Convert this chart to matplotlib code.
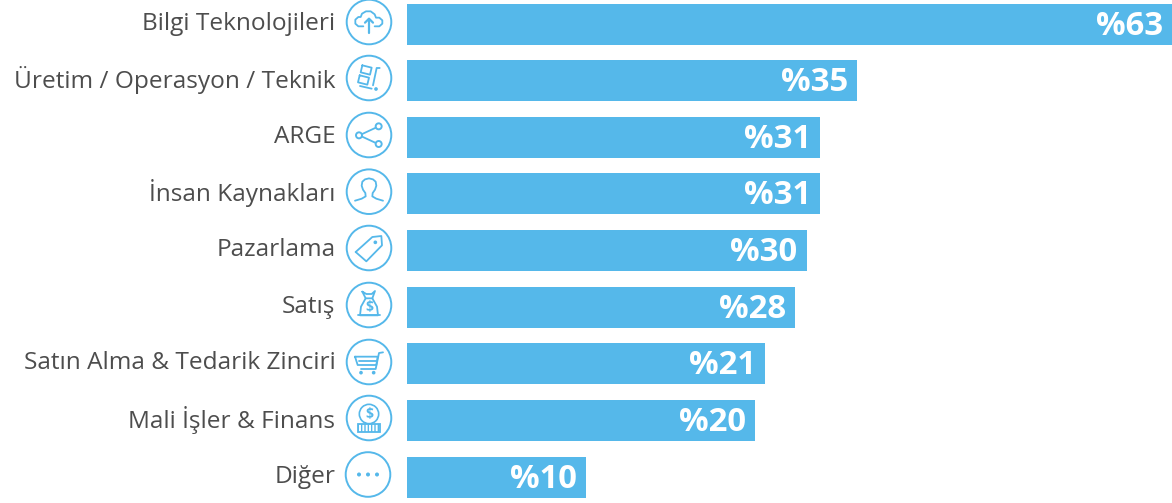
import matplotlib
matplotlib.use('Agg')
import matplotlib.pyplot as plt
from matplotlib.patches import Circle, Polygon

# data
categories = ['Bilgi Teknolojileri', 'Üretim / Operasyon / Teknik', 'ARGE', 'İnsan Kaynakları',
              'Pazarlama', 'Satış', 'Satın Alma & Tedarik Zinciri', 'Mali İşler & Finans', 'Diğer']
value_labels = ['%63', '%35', '%31', '%31', '%30', '%28', '%21', '%20', '%10']
# bar lengths as drawn in the picture (they are not proportional to the labels)
bar_lengths = [63.0, 37.05, 34.0, 34.0, 32.9, 31.95, 29.5, 28.65, 14.75]
icons = ['cloud', 'list', 'share', 'person', 'tag', 'bag', 'cart', 'coin', 'dots']

BLUE = '#55b8ea'
GREY = '#4d4d4d'
W, H = 1172, 503
plt.rcParams['font.family'] = ['Open Sans', 'DejaVu Sans']

fig = plt.figure(figsize=(W / 100, H / 100), dpi=100)

# bars: axes spans the bar area, y runs in pixels from the top
ax = fig.add_axes([407 / W, 0, (W - 407) / W, 1])
ax.set_xlim(0, 63)
rows = [24.5, 80.5, 137.5, 193.5, 250.5, 307.5, 363.5, 420.5, 477.5]
ax.set_ylim(H, 0)
ax.barh(rows, bar_lengths, height=41, color=BLUE, linewidth=0)
ax.axis('off')
for r, v, lab in zip(rows, bar_lengths, value_labels):
    ax.annotate(lab, (v, r), xytext=(-9, -2), textcoords='offset pixels', ha='right', va='center',
                color='white', fontsize=23.7, fontweight='bold')

# overlay in pixels for the labels and the icons
ov = fig.add_axes([0, 0, 1, 1])
ov.set_xlim(0, W)
ov.set_ylim(H, 0)
ov.axis('off')
ov.patch.set_alpha(0)
for r, c in zip(rows, categories):
    ov.text(335.5, r - 0.5, c, ha='right', va='center', color=GREY, fontsize=17.6)


def line(cx, cy, pts, lw=1.3, closed=False):
    # pts given in 3x zoomed offsets from the icon centre
    xs = [cx + p[0] / 3 for p in pts]
    ys = [cy + p[1] / 3 for p in pts]
    if closed:
        xs.append(xs[0])
        ys.append(ys[0])
    ov.plot(xs, ys, color=BLUE, lw=lw, solid_capstyle='round', solid_joinstyle='round')


def dot(cx, cy, x, y, r, fill=True):
    ov.add_patch(Circle((cx + x / 3, cy + y / 3), r / 3, fc=BLUE if fill else 'none', ec=BLUE, lw=1.2))


def draw_icon(name, cx, cy):
    ov.add_patch(Circle((cx, cy), 22.3, fc='none', ec=BLUE, lw=1.4))
    if name == 'cloud':
        line(cx, cy, [(-17, 13), (-32, 13), (-41, 5), (-41, -7), (-32, -15), (-25, -15), (-21, -25), (-9, -32),
                      (5, -32), (17, -23), (21, -13), (31, -13), (40, -5), (40, 5), (31, 13), (17, 13)])
        line(cx, cy, [(0, 32), (0, -10)], lw=1.6)
        line(cx, cy, [(-12, 2), (0, -10), (12, 2)], lw=1.6)
    elif name == 'list':
        line(cx, cy, [(-20, -38), (8, -31), (3, -10), (-25, -17)], closed=True)
        line(cx, cy, [(-28, -8), (0, -1), (-5, 20), (-33, 13)], closed=True)
        line(cx, cy, [(-27, 24), (8, 32)])
        line(cx, cy, [(12, 22), (23, -30), (32, -30)])
        dot(cx, cy, 21, 33, 3)
    elif name == 'share':
        line(cx, cy, [(27, -25), (-29, 1), (27, 27)])
        for x, y in [(29, -26), (-30, 1), (29, 27)]:
            ov.add_patch(Circle((cx + x / 3, cy + y / 3), 9 / 3, fc='white', ec=BLUE, lw=1.4, zorder=3))
    elif name == 'person':
        line(cx, cy, [(-42, 27), (-22, 21), (-10, 14), (-11, 4), (-18, -6), (-22, -18), (-20, -30), (-12, -37),
                      (0, -40), (12, -37), (20, -30), (22, -18), (18, -6), (11, 4), (10, 14), (22, 21), (42, 27)])
    elif name == 'tag':
        line(cx, cy, [(-40, 12), (10, -33), (37, -36), (39, -8), (-8, 40)], closed=True)
        dot(cx, cy, 19, -17, 3)
    elif name == 'bag':
        line(cx, cy, [(-20, -40), (-8, -33), (8, -33), (18, -42), (10, -20), (-10, -20)], closed=True)
        line(cx, cy, [(-10, -20), (-24, 5), (-27, 31), (27, 31), (24, 5), (10, -20)])
        line(cx, cy, [(-32, 31), (32, 31)])
        ov.text(cx, cy + 1.5, '$', ha='center', va='center', color=BLUE, fontsize=10, fontweight='bold')
    elif name == 'cart':
        line(cx, cy, [(42, -29), (30, -27), (20, 21), (-24, 21)])
        line(cx, cy, [(-42, -16), (26, -16), (22, 9), (-34, 9)], closed=True)
        line(cx, cy, [(-30, -3), (22, -3)])
        dot(cx, cy, -24, 32, 3)
        dot(cx, cy, 14, 32, 3)
    elif name == 'coin':
        dot(cx, cy, 0, -12, 29, fill=False)
        ov.text(cx, cy - 4, '$', ha='center', va='center', color=BLUE, fontsize=10, fontweight='bold')
        ov.add_patch(Polygon([(cx - 11, cy + 6), (cx + 11, cy + 6), (cx + 11, cy + 14), (cx - 11, cy + 14)],
                             fc='none', ec=BLUE, lw=1.3, hatch='|||||'))
    elif name == 'dots':
        for x in (-27, 0, 27):
            dot(cx, cy, x, 0, 3.5)


icon_x = [369, 369, 369, 369, 369, 369, 369, 369, 368]
icon_y = [22, 78, 135, 191.7, 248, 305, 362, 418, 474.5]
for name, cx, cy in zip(icons, icon_x, icon_y):
    draw_icon(name, cx, cy)

fig.savefig('out.png', dpi=100)
